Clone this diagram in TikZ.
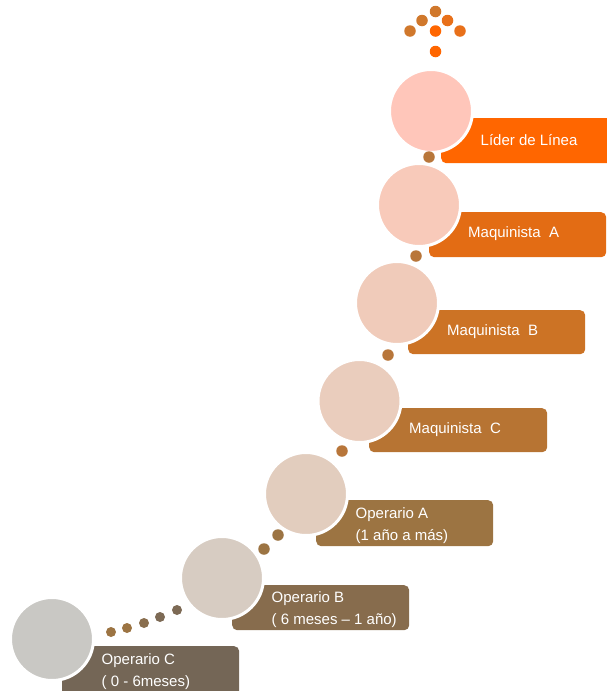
\documentclass[tikz,border=0pt]{standalone}
\usepackage{fontspec}
\setmainfont{Liberation Sans}
% disc fills
\definecolor{dLider}{HTML}{FFC6BA}
\definecolor{dMaqA}{HTML}{F8CABA}
\definecolor{dMaqB}{HTML}{F0CBBA}
\definecolor{dMaqC}{HTML}{EACDBD}
\definecolor{dOpA}{HTML}{E2CDBE}
\definecolor{dOpB}{HTML}{D7CCC2}
\definecolor{dOpC}{HTML}{C9C8C4}
% label bars
\definecolor{bLider}{HTML}{FF6600}
\definecolor{bMaqA}{HTML}{E36C14}
\definecolor{bMaqB}{HTML}{CC7325}
\definecolor{bMaqC}{HTML}{B77433}
\definecolor{bOpA}{HTML}{9C7442}
\definecolor{bOpB}{HTML}{876C4D}
\definecolor{bOpC}{HTML}{746656}
% small dots
\definecolor{dotA}{HTML}{B8763A}
\definecolor{dotB}{HTML}{9C7443}
\definecolor{dotC}{HTML}{7D6A55}
\definecolor{arrA}{HTML}{D0782C}
\definecolor{arrB}{HTML}{E8701A}
\definecolor{arrC}{HTML}{FF6600}
\begin{document}
\begin{tikzpicture}[x=1pt,y=-1pt,
  disc/.style={circle, fill=#1, draw=white, line width=3pt, minimum size=83pt, inner sep=0pt},
  tag/.style={rounded corners=5pt, fill=#1, inner sep=0pt, anchor=north west},
  lbl/.style={text=white, font=\fontsize{15}{22}\selectfont, anchor=west, align=left, inner sep=0pt},
  dot/.style={circle, fill=#1, inner sep=0pt, minimum size=11.5pt},
  sdot/.style={circle, fill=#1, inner sep=0pt, minimum size=10pt}]
\useasboundingbox (0,0) rectangle (607,691);

% label bars
\node[tag=bLider, minimum width=180pt, minimum height=45pt] (barLider) at (441,118) {};
\node[tag=bMaqA, minimum width=177pt, minimum height=45pt] (barMaqA) at (429,212) {};
\node[tag=bMaqB, minimum width=177pt, minimum height=44pt] (barMaqB) at (408,310) {};
\node[tag=bMaqC, minimum width=178pt, minimum height=44pt] (barMaqC) at (369,408) {};
\node[tag=bOpA, minimum width=177pt, minimum height=46pt] (barOpA) at (316,500) {};
\node[tag=bOpB, minimum width=177pt, minimum height=45pt] (barOpB) at (232,585) {};
\node[tag=bOpC, minimum width=177pt, minimum height=52pt] (barOpC) at (62,646) {};

% discs
\node[disc=dLider] (cLider) at (431,111) {};
\node[disc=dMaqA] (cMaqA) at (419,205) {};
\node[disc=dMaqB] (cMaqB) at (397,303) {};
\node[disc=dMaqC] (cMaqC) at (359.5,401) {};
\node[disc=dOpA] (cOpA) at (306,494) {};
\node[disc=dOpB] (cOpB) at (222,578) {};
\node[disc=dOpC] (cOpC) at (52,639) {};

% labels
\node[lbl] (tLider) at (480.5,140.5) {Líder de Línea};
\node[lbl] (tMaqA) at (468,234) {Maquinista\ \ A};
\node[lbl] (tMaqB) at (447,332) {Maquinista\ \ B};
\node[lbl] (tMaqC) at (409,430) {Maquinista\ \ C};
\node[lbl, anchor=north west] (tOpA) at (355.5,507) {Operario A\\(1 año a más)};
\node[lbl, anchor=north west] (tOpB) at (271.5,591) {Operario B\\( 6 meses – 1 año)};
\node[lbl, anchor=north west] (tOpC) at (101.5,653) {Operario C\\( 0 - 6meses)};

% connecting dots
\node[dot=dotA] (k1) at (429,157) {};
\node[dot=dotA] (k2) at (416,256) {};
\node[dot=dotA] (k3) at (388,355) {};
\node[dot=dotA] (k4) at (342,451) {};
\node[dot=dotB] (k5) at (278,535) {};
\node[dot=dotB] (k6) at (264,549) {};
\node[sdot=dotC] (k7) at (177,610) {};
\node[sdot=dotC] (k8) at (160,617) {};
\node[sdot=dotC!60!dotB] (k9) at (144,623) {};
\node[sdot=dotB] (k10) at (127,628) {};
\node[sdot=dotB] (k11) at (111,632) {};

% arrow-shaped dot cluster at the top
\node[dot=arrA] (a1) at (435.5,11.5) {};
\node[dot=arrA] (a2) at (422,20.5) {};
\node[dot=arrB] (a3) at (447.5,20.5) {};
\node[dot=arrA] (a4) at (410,31) {};
\node[dot=arrC] (a5) at (435.5,31) {};
\node[dot=arrB] (a6) at (460,31) {};
\node[dot=arrC] (a7) at (435.5,51.5) {};
\end{tikzpicture}
\end{document}
